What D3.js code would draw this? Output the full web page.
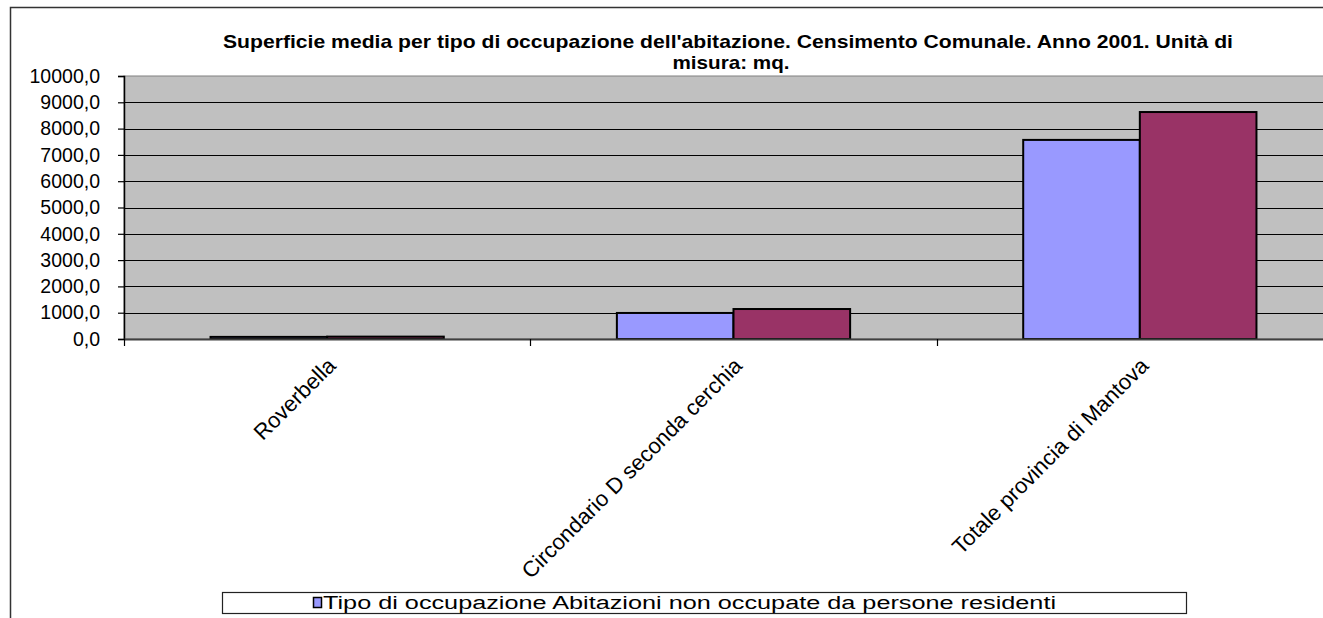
<!DOCTYPE html>
<html lang="it">
<head>
    <meta charset="UTF-8">
    <title>Superficie media per tipo di occupazione</title>
    <script src="https://d3js.org/d3.v7.min.js"></script>
    <style>
        body { margin: 0; background: #fff; }
        svg { font-family: "Liberation Sans", Arial, sans-serif; display: block; }
        .ytick text { font-size: 19.5px; }
        .xlab { font-size: 22px; }
        .title { font-size: 18.5px; font-weight: bold; }
        .legend text { font-size: 18px; }
    </style>
</head>
<body>
    <div id="chart"></div>
    <script>
        const categories = ["Roverbella", "Circondario D seconda cerchia", "Totale provincia di Mantova"];
        const seriesNames = [
            "Tipo di occupazione  Abitazioni  non occupate da persone residenti",
            "Tipo di occupazione  Abitazioni  occupate da persone residenti"
        ];
        const nonOccupate = [80, 990, 7570];
        const occupate = [90, 1140, 8630];
        const yTicks = [0, 1000, 2000, 3000, 4000, 5000, 6000, 7000, 8000, 9000, 10000];
        const colors = ["#9999FF", "#993366"];

        const width = 1323, height = 618;
        const plot = { left: 124, right: 1343, top: 76, bottom: 339 };

        const svg = d3.select("#chart").append("svg")
            .attr("width", width)
            .attr("height", height);

        // outer chart frame (runs off the right and bottom edges)
        svg.append("path")
            .attr("d", `M10.5,${height + 5} V7.5 H${width + 5}`)
            .attr("fill", "none")
            .attr("stroke", "#333")
            .attr("stroke-width", 1.5);

        const x0 = d3.scaleBand()
            .domain(categories)
            .range([plot.left, plot.right])
            .paddingInner(0)
            .paddingOuter(0);

        const x1 = d3.scaleBand()
            .domain([0, 1])
            .range([0, x0.bandwidth()])
            .paddingInner(0)
            .paddingOuter(0.742);

        const y = d3.scaleLinear()
            .domain([0, 10000])
            .range([plot.bottom, plot.top]);

        // plot area
        svg.append("rect")
            .attr("x", plot.left)
            .attr("y", plot.top)
            .attr("width", plot.right - plot.left)
            .attr("height", plot.bottom - plot.top)
            .attr("fill", "#C0C0C0")
            .attr("stroke", "#808080")
            .attr("stroke-width", 1);

        // gridlines
        svg.append("g")
            .selectAll("line")
            .data(yTicks.filter(d => d > 0 && d < 10000))
            .enter().append("line")
            .attr("x1", plot.left)
            .attr("x2", plot.right)
            .attr("y1", d => Math.round(y(d)) + 0.5)
            .attr("y2", d => Math.round(y(d)) + 0.5)
            .attr("stroke", "#000")
            .attr("stroke-width", 1.2);

        // y axis
        const yAxis = svg.append("g")
            .attr("class", "ytick")
            .attr("transform", `translate(${plot.left},0)`)
            .call(d3.axisLeft(y)
                .tickValues(yTicks)
                .tickSize(6)
                .tickPadding(18)
                .tickFormat(d => d3.format(".1f")(d).replace(".", ",")));
        yAxis.select(".domain").attr("stroke", "#000").attr("stroke-width", 1.5);
        yAxis.selectAll(".tick line").attr("stroke", "#000").attr("stroke-width", 1.2);
        yAxis.selectAll("text").attr("fill", "#000");

        // bars
        const rows = categories.map((c, i) => ({ cat: c, values: [nonOccupate[i], occupate[i]] }));
        const groups = svg.append("g")
            .selectAll("g")
            .data(rows)
            .enter().append("g")
            .attr("transform", d => `translate(${x0(d.cat)},0)`);

        groups.selectAll("rect")
            .data(d => d.values.map((v, s) => ({ v, s })))
            .enter().append("rect")
            .attr("x", d => x1(d.s))
            .attr("y", d => y(d.v))
            .attr("width", x1.bandwidth())
            .attr("height", d => plot.bottom - y(d.v))
            .attr("fill", d => colors[d.s])
            .attr("stroke", "#000")
            .attr("stroke-width", 2);

        // x axis
        const xAxis = svg.append("g")
            .attr("transform", `translate(0,${plot.bottom})`)
            .call(d3.axisBottom(x0).tickSize(0).tickFormat(""));
        xAxis.select(".domain").attr("stroke", "#404040").attr("stroke-width", 2);

        // category separators
        svg.append("g")
            .selectAll("line")
            .data(categories)
            .enter().append("line")
            .attr("x1", d => Math.round(x0(d)) + 0.5)
            .attr("x2", d => Math.round(x0(d)) + 0.5)
            .attr("y1", plot.bottom)
            .attr("y2", plot.bottom + 7)
            .attr("stroke", "#000")
            .attr("stroke-width", 1.2);

        // category labels, rotated
        svg.append("g")
            .selectAll("text")
            .data(categories)
            .enter().append("text")
            .attr("class", "xlab")
            .attr("text-anchor", "end")
            .attr("transform", d => `translate(${x0(d) + x0.bandwidth() / 2 + 10},${plot.bottom + 28}) rotate(-45)`)
            .text(d => d);

        // title
        const title = svg.append("text")
            .attr("class", "title")
            .attr("text-anchor", "middle");
        title.append("tspan")
            .attr("x", 728)
            .attr("y", 48)
            .attr("textLength", 1010)
            .attr("lengthAdjust", "spacingAndGlyphs")
            .text("Superficie media per tipo di occupazione dell'abitazione. Censimento Comunale. Anno 2001. Unità di");
        title.append("tspan")
            .attr("x", 731)
            .attr("y", 69)
            .attr("textLength", 117)
            .attr("lengthAdjust", "spacingAndGlyphs")
            .text("misura: mq.");

        // legend
        const legend = svg.append("g").attr("class", "legend");
        legend.append("rect")
            .attr("x", 222.5)
            .attr("y", 592.5)
            .attr("width", 964)
            .attr("height", 21)
            .attr("fill", "#fff")
            .attr("stroke", "#222")
            .attr("stroke-width", 1.2);
        legend.append("rect")
            .attr("x", 313.5)
            .attr("y", 597.5)
            .attr("width", 8)
            .attr("height", 10)
            .attr("fill", colors[0])
            .attr("stroke", "#000")
            .attr("stroke-width", 1.5);
        legend.append("text")
            .attr("x", 323)
            .attr("y", 609)
            .attr("textLength", 733)
            .attr("lengthAdjust", "spacingAndGlyphs")
            .text(seriesNames[0]);
    </script>
</body>
</html>
